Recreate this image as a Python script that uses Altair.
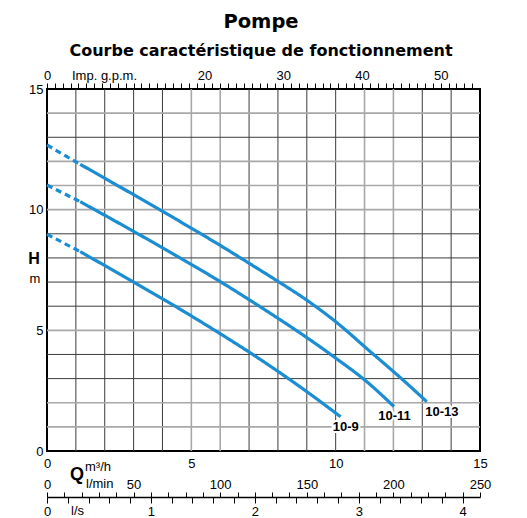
import altair as alt
import pandas as pd

# ---------------- data ----------------
series_names = ["10-9", "10-11", "10-13"]

# solid parts of the curves: flow Q (m3/h) and head H (m)
q_10_9 = [1.15, 3.0, 4.62, 6.0, 7.0, 8.0, 9.0, 10.17]
h_10_9 = [8.26, 7.00, 5.87, 4.86, 4.10, 3.30, 2.46, 1.42]

q_10_11 = [1.15, 3.0, 4.62, 6.0, 7.0, 8.0, 9.0, 10.0, 11.1, 12.02]
h_10_11 = [10.33, 9.10, 7.99, 7.02, 6.27, 5.50, 4.70, 3.85, 2.85, 1.84]

q_10_13 = [1.15, 3.0, 4.62, 6.0, 7.0, 8.0, 9.0, 10.06, 11.1, 12.26, 13.16]
h_10_13 = [11.88, 10.62, 9.50, 8.52, 7.78, 7.03, 6.25, 5.30, 4.22, 3.02, 2.04]

# dashed extension towards zero flow
shutoff_h = [8.98, 11.02, 12.68]
dash_q = [0.0, 1.15]

# curve labels (data coordinates)
label_q = [10.35, 12.04, 13.68]
label_h = [1.01, 1.46, 1.62]

# grid & axes
grid_q = list(range(1, 15))
grid_h = list(range(1, 15))
light_q = [5, 6, 11, 12]
light_h = [1, 2, 5, 10, 11, 12, 14]

m3h_labels = [0, 5, 10, 15]
h_labels = [0, 5, 10, 15]
gpm_max = 54.99
gpm_ticks = list(range(0, 55))
gpm_labels = [0, 20, 30, 40, 50]
lmin_ticks = list(range(0, 251, 10))
lmin_labels = [0, 50, 100, 150, 200, 250]
ls_max = 250 / 60
ls_ticks = [round(i * 0.2, 1) for i in range(0, 21)]
ls_labels = [0, 1, 2, 3, 4]

# ---------------- tables ----------------
solid = {"10-9": (q_10_9, h_10_9), "10-11": (q_10_11, h_10_11), "10-13": (q_10_13, h_10_13)}
rows = []
for i, name in enumerate(series_names):
    qs, hs = solid[name]
    for q, h in zip(qs, hs):
        rows.append({"name": name, "seg": "solid", "key": name + "s", "q": q, "h": h})
    rows.append({"name": name, "seg": "dash", "key": name + "d", "q": dash_q[0], "h": shutoff_h[i]})
    rows.append({"name": name, "seg": "dash", "key": name + "d", "q": dash_q[1], "h": hs[0]})
curves = pd.DataFrame(rows)

labels = pd.DataFrame({"name": series_names, "q": label_q, "h": label_h})
vgrid = pd.DataFrame({"q": grid_q, "tone": ["light" if v in light_q else "dark" for v in grid_q]})
hgrid = pd.DataFrame({"h": grid_h, "tone": ["light" if v in light_h else "dark" for v in grid_h]})
gpm_df = pd.DataFrame({"g": gpm_ticks})
lmin_df = pd.DataFrame({"l": lmin_ticks})
ls_df = pd.DataFrame({"s": ls_ticks})

# ---------------- styling ----------------
W, H = 433, 362
FONT = "Liberation Sans"
TFONT = "DejaVu Sans"
BLUE = "#1b8dd2"

xs = alt.Scale(domain=[0, 15], nice=False, zero=False)
ys = alt.Scale(domain=[0, 15], nice=False, zero=False)
y_axis = alt.Axis(values=h_labels, tickSize=0, domain=False, grid=False, labelPadding=4,
                  title=None, labelFont=FONT, labelFontSize=13, labelColor="black")
tone_color = alt.Color("tone:N", scale=alt.Scale(domain=["dark", "light"], range=["#3c3c3c", "#a8a8a8"]), legend=None)
tone_size = alt.Size("tone:N", scale=alt.Scale(domain=["dark", "light"], range=[1, 1.6]), legend=None)


def label_expr(vals):
    return "indexof([" + ",".join(str(v) for v in vals) + "], datum.value) >= 0 ? datum.label : ''"


vgrid_layer = alt.Chart(vgrid).mark_rule().encode(
    x=alt.X("q:Q", scale=xs, axis=None), y=alt.value(0), y2=alt.value(H),
    color=tone_color, size=tone_size)

hgrid_layer = alt.Chart(hgrid).mark_rule().encode(
    y=alt.Y("h:Q", scale=ys, axis=y_axis), x=alt.value(0), x2=alt.value(W),
    color=tone_color, size=tone_size)

curve_layer = alt.Chart(curves).mark_line(color=BLUE, strokeWidth=3.2, strokeCap="butt",
                                          interpolate="monotone").encode(
    x=alt.X("q:Q", scale=xs, axis=alt.Axis(orient="bottom", values=m3h_labels, ticks=False, tickSize=0,
                                           domain=False, grid=False, labelPadding=6, title=None,
                                           labelFont=FONT, labelFontSize=13, labelColor="black",
                                           labelFlush=False)),
    y=alt.Y("h:Q", scale=ys, axis=y_axis),
    detail="key:N",
    order="q:Q",
    strokeDash=alt.StrokeDash("seg:N", scale=alt.Scale(domain=["solid", "dash"], range=[[1, 0], [6, 4]]), legend=None),
)

label_halo = alt.Chart(labels).mark_text(font=FONT, fontSize=13, fontWeight="bold", stroke="white",
                                         strokeWidth=4, fill="white").encode(
    x=alt.X("q:Q", scale=xs, axis=None), y=alt.Y("h:Q", scale=ys, axis=y_axis), text="name:N")
label_layer = alt.Chart(labels).mark_text(font=FONT, fontSize=13, fontWeight="bold", color="black").encode(
    x=alt.X("q:Q", scale=xs, axis=None), y=alt.Y("h:Q", scale=ys, axis=y_axis), text="name:N")

gpm_layer = alt.Chart(gpm_df).mark_point(opacity=0).encode(
    x=alt.X("g:Q", scale=alt.Scale(domain=[0, gpm_max], nice=False, zero=False),
            axis=alt.Axis(orient="top", values=gpm_ticks, labelExpr=label_expr(gpm_labels), domain=False,
                          grid=False, tickSize=6, tickColor="black", tickWidth=1, labelPadding=1,
                          labelOverlap=False, labelFlush=False, title=None, labelFont=FONT,
                          labelFontSize=13, labelColor="black")),
    y=alt.value(0))

lmin_layer = alt.Chart(lmin_df).mark_point(opacity=0).encode(
    x=alt.X("l:Q", scale=alt.Scale(domain=[0, 250], nice=False, zero=False),
            axis=alt.Axis(orient="top", offset=-408, values=lmin_ticks, labelExpr=label_expr(lmin_labels),
                          domain=True, domainColor="black", domainWidth=1.6, grid=False, tickSize=5,
                          tickColor="black", tickWidth=1, labelPadding=1, labelOverlap=False,
                          labelFlush=False, title=None, labelFont=FONT, labelFontSize=13,
                          labelColor="black")),
    y=alt.value(0))

ls_layer = alt.Chart(ls_df).mark_point(opacity=0).encode(
    x=alt.X("s:Q", scale=alt.Scale(domain=[0, ls_max], nice=False, zero=False),
            axis=alt.Axis(orient="bottom", offset=46, values=ls_ticks, labelExpr=label_expr(ls_labels),
                          format=".0f", domain=False, grid=False, tickSize=6, tickColor="black",
                          tickWidth=1, labelPadding=2, labelOverlap=False, labelFlush=False, title=None,
                          labelFont=FONT, labelFontSize=13, labelColor="black")),
    y=alt.value(0))

one = alt.Data(values=[{}])


def txt(text, x, y, size=13, bold=False, font=FONT, align="left", baseline="middle"):
    return alt.Chart(one).mark_text(text=text, font=font, fontSize=size, fontWeight="bold" if bold else "normal",
                                    align=align, baseline=baseline, color="black").encode(
        x=alt.value(x), y=alt.value(y))


texts = [
    txt("Pompe", 214, -61, size=19.5, bold=True, font=TFONT, align="center", baseline="alphabetic"),
    txt("Courbe caractéristique de fonctionnement", 214, -33, size=16, bold=True, font=TFONT,
        align="center", baseline="alphabetic"),
    txt("Imp. g.p.m.", 25, -13, size=13),
    txt("H", -13, 170, size=16, bold=True, align="center"),
    txt("m", -12, 190, size=13, align="center"),
    txt("Q", 30, 386, size=18, bold=True, align="center"),
    txt("m³/h", 38, 378, size=13),
    txt("l/min", 39, 395, size=13),
    txt("l/s", 24, 422, size=13),
]

chart = alt.layer(
    vgrid_layer, hgrid_layer, curve_layer, label_halo, label_layer,
    gpm_layer, lmin_layer, ls_layer, *texts
).resolve_scale(x="independent").properties(
    width=W, height=H,
    padding={"left": 39, "top": 81, "right": 20, "bottom": 67},
    autosize=alt.AutoSizeParams(type="none"),
).configure_view(stroke="black", strokeWidth=2)

chart.save("out.html", embed_options={"renderer": "svg", "actions": False})
